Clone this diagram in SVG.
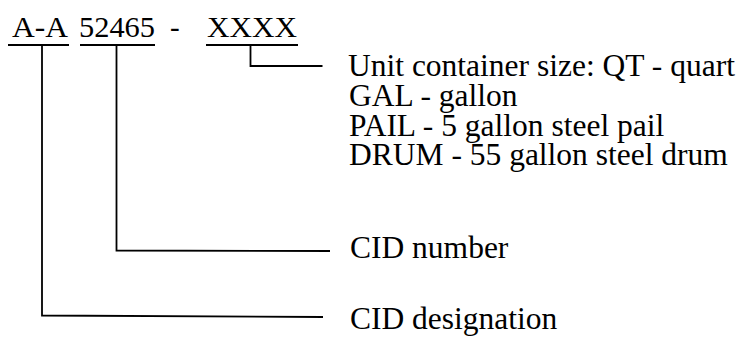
<svg xmlns="http://www.w3.org/2000/svg" width="747" height="337" viewBox="0 0 747 337">
<style>
.t{font-family:"Liberation Serif","Times New Roman",serif;font-size:31.5px;fill:#000}
.c{font-family:"Liberation Serif","Times New Roman",serif;font-size:29px;fill:#000}
.ln{stroke:#000;stroke-width:1.8;fill:none}
</style>
<rect width="747" height="337" fill="#fff"/>
<g id="code">
<text class="c" x="12" y="37" textLength="56" lengthAdjust="spacingAndGlyphs">A-A</text>
<text class="c" x="79" y="37" textLength="76" lengthAdjust="spacingAndGlyphs">52465</text>
<text class="c" x="170" y="37">-</text>
<text class="c" x="207" y="37" textLength="90" lengthAdjust="spacingAndGlyphs">XXXX</text>
<line class="ln" x1="8" y1="45" x2="69" y2="45"/>
<line class="ln" x1="80" y1="45" x2="155" y2="45"/>
<line class="ln" x1="206" y1="45" x2="298" y2="45"/>
</g>
<g id="connectors">
<polyline class="ln" points="250.5,45 250.5,66 322.5,66"/>
<polyline class="ln" points="116.5,45 116.5,250.5 330,251"/>
<polyline class="ln" points="42,45 42,315.5 323,317"/>
</g>
<g id="container-size">
<text class="t" x="348" y="76">Unit container size: QT - quart</text>
<text class="t" x="349" y="105.5">GAL - gallon</text>
<text class="t" x="349" y="135.5">PAIL - 5 gallon steel pail</text>
<text class="t" x="349" y="165">DRUM - 55 gallon steel drum</text>
</g>
<g id="cid-number">
<text class="t" x="350" y="258">CID number</text>
</g>
<g id="cid-designation">
<text class="t" x="350" y="329">CID designation</text>
</g>
</svg>
